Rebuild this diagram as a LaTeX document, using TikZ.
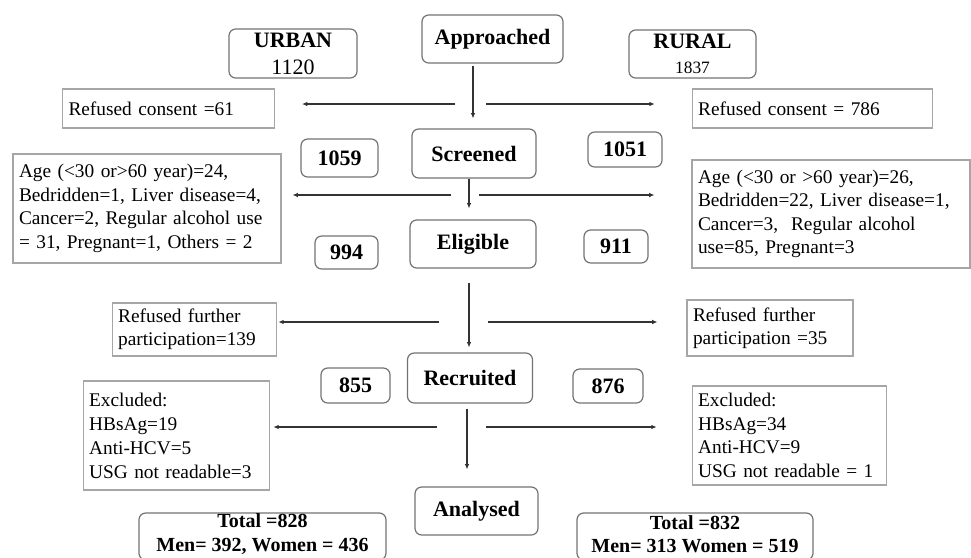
\documentclass[tikz,border=0pt]{standalone}
\usepackage{fontspec}
\setmainfont{Liberation Serif}
\usetikzlibrary{arrows.meta,calc}

\begin{document}
\begin{tikzpicture}[x=0.75pt, y=-0.75pt,
stage/.style={draw=black!55, line width=0.9pt, rounded corners=5pt, inner sep=0pt, align=center,
  font=\fontsize{16.5}{20}\selectfont\bfseries},
info/.style={draw=black!35, line width=0.8pt, inner xsep=4.5pt, inner ysep=0pt, align=left,
  font=\fontsize{14.5}{17.6}\selectfont},
arr/.style={-{Latex[length=4pt,width=3.5pt]}, line width=1.3pt, black!80}]
\useasboundingbox (0,0) rectangle (971,557);
% middle column
\node[stage, minimum width=105.75pt, minimum height=36pt] (appr) at (492.5,39) {Approached};
\node[stage, minimum width=93pt, minimum height=36.75pt] (scr) at (474,153.5) {Screened};
\node[stage, minimum width=94.5pt, minimum height=36pt] (elig) at (473,244) {Eligible};
\node[stage, minimum width=93.75pt, minimum height=37.5pt] (recr) at (470,378) {Recruited};
\node[stage, minimum width=92.25pt, minimum height=36pt] (anal) at (476.5,511) {Analysed};
% urban / rural counts
\node[stage, font=\fontsize{16.5}{20.25}\selectfont, minimum width=96pt, minimum height=36.75pt] (urban) at (293,53.5) {\textbf{URBAN}\\1120};
\node[stage, font=\fontsize{16.5}{18.75}\selectfont, minimum width=95.25pt, minimum height=36pt] (rural) at (692.5,54) {\textbf{RURAL}\\{\fontsize{13}{15}\selectfont 1837}};
\node[stage, minimum width=57.75pt, minimum height=28.5pt] (u1) at (339.5,158) {1059};
\node[stage, minimum width=55.5pt, minimum height=26.25pt] (r1) at (625,149.5) {1051};
\node[stage, minimum width=47.25pt, minimum height=24.75pt] (u2) at (346.5,252.5) {994};
\node[stage, minimum width=48pt, minimum height=24.75pt] (r2) at (616,246.5) {911};
\node[stage, minimum width=51.75pt, minimum height=26.25pt] (u3) at (355.5,385.5) {855};
\node[stage, minimum width=52.5pt, minimum height=25.5pt] (r3) at (608,386) {876};
\node[stage, font=\fontsize{15}{17.5}\selectfont\bfseries, minimum width=185.25pt, minimum height=35.25pt, text depth=0pt] (utot) at (262.5,536.5) {};
\node[font=\fontsize{15}{17.5}\selectfont\bfseries, align=center, inner sep=0pt] (utxt) at (262.5,534) {Total =828\\Men= 392, Women = 436};
\node[stage, minimum width=177pt, minimum height=35.25pt] (rtot) at (695,536.5) {};
\node[font=\fontsize{15}{17.5}\selectfont\bfseries, align=center, inner sep=0pt] (rtxt) at (695,534) {Total =832\\Men= 313 Women = 519};
% side boxes
\node[info, text width=150pt, minimum height=29.25pt] (ref61) at (168.5,108.5) {Refused consent =61};
\node[info, text width=171.5pt, minimum height=29.25pt] (ref786) at (812.5,108.5) {Refused consent = 786};
\node[info, text width=192pt, minimum height=81.75pt] (ageL) at (147,208.5) {Age (<30 or>60 year)=24,\\Bedridden=1, Liver disease=4,\\Cancer=2, Regular alcohol use\\= 31, Pregnant=1, Others = 2};
\node[info, text width=199.5pt, minimum height=81pt] (ageR) at (831,214) {Age (<30 or >60 year)=26,\\Bedridden=22, Liver disease=1,\\Cancer=3,\ \ Regular alcohol\\use=85, Pregnant=3};
\node[info, text width=114.5pt, minimum height=39.75pt] (furL) at (194.5,329.5) {Refused further\\participation=139};
\node[info, text width=115.5pt, minimum height=42pt] (furR) at (770,328) {Refused further\\participation =35};
\node[info, text width=131pt, minimum height=81.75pt, font=\fontsize{14.5}{18}\selectfont] (excL) at (176.5,435.5) {Excluded:\\HBsAg=19\\Anti-HCV=5\\USG not readable=3};
\node[info, text width=137pt, minimum height=74.25pt, font=\fontsize{14.5}{17.6}\selectfont] (excR) at (789.5,435.5) {Excluded:\\HBsAg=34\\Anti-HCV=9\\USG not readable = 1};
% junctions on the down arrows
\coordinate (j1) at (473,104);
\coordinate (j2) at (469,195);
\coordinate (j3) at (469,322);
\coordinate (j4) at (467,427);
\draw[arr, shorten <=1.5pt, shorten >=7.5pt] (appr.south -| j1) -- (scr.north -| j1);
\draw[arr, shorten >=8.25pt] (scr.south -| j2) -- (elig.north -| j2);
\draw[arr, shorten <=10.5pt, shorten >=3.75pt] (elig.south -| j3) -- (recr.north -| j3);
\draw[arr, shorten <=3.75pt, shorten >=12.75pt] (recr.south -| j4) -- (anal.north -| j4);
\draw[arr] ($(j1)+(-18,0)$) -- ($(ref61.east |- j1)+(27,0)$);
\draw[arr] ($(j1)+(13,0)$) -- ($(ref786.west |- j1)+(-37,0)$);
\draw[arr] ($(j2)+(-18,0)$) -- ($(ageL.east |- j2)+(11,0)$);
\draw[arr] ($(j2)+(10,0)$) -- ($(ageR.west |- j2)+(-37,0)$);
\draw[arr] ($(j3)+(-30,0)$) -- ($(furL.east |- j3)+(1,0)$);
\draw[arr] ($(j3)+(19,0)$) -- ($(furR.west |- j3)+(-29,0)$);
\draw[arr] ($(j4)+(-30,0)$) -- ($(excL.east |- j4)+(3,0)$);
\draw[arr] ($(j4)+(19,0)$) -- ($(excR.west |- j4)+(-35,0)$);
\end{tikzpicture}
\end{document}
